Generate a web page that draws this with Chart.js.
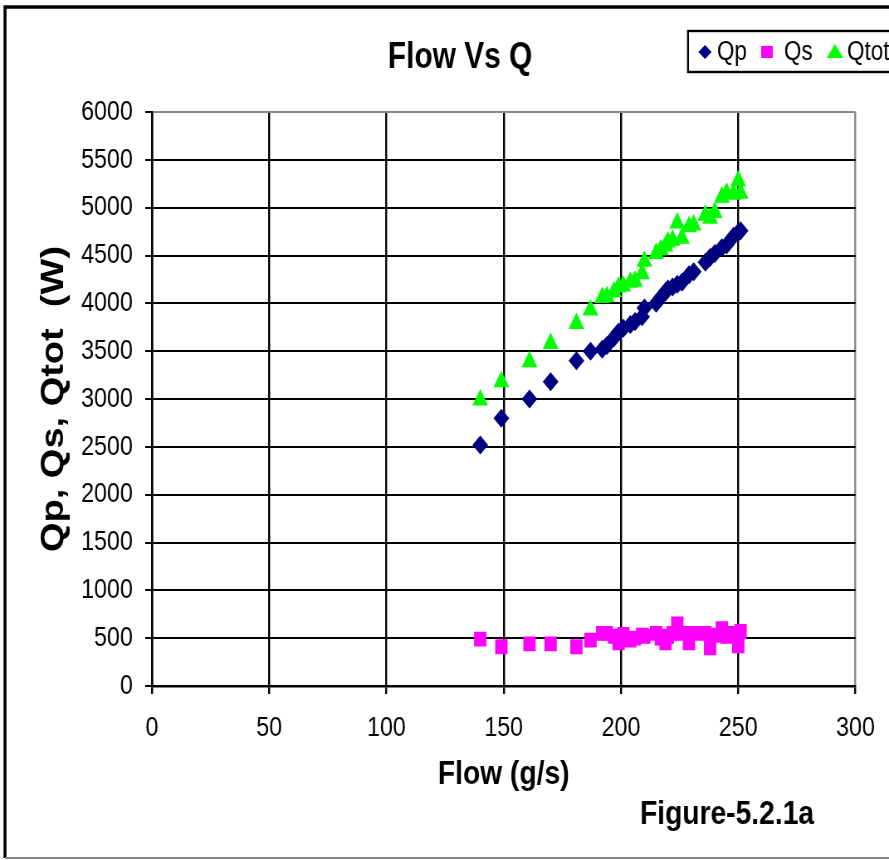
<!DOCTYPE html>
<html>
<head>
<meta charset="utf-8">
<title>Flow Vs Q</title>
<script src="https://cdn.jsdelivr.net/npm/chart.js@4.4.0/dist/chart.umd.min.js"></script>
<style>
  html, body { margin: 0; padding: 0; background: #fff; overflow: hidden; }
  #wrap { width: 889px; height: 860px; overflow: hidden; }
  canvas { display: block; transform-origin: 0 0; }
</style>
</head>
<body>
<div id="wrap"><canvas id="myChart" height="860"></canvas></div>
<script>
// values
var flow = [140, 149, 161, 170, 181, 187, 192, 194, 197, 199, 201, 204, 206, 209, 210, 215,
            217, 219, 220, 222, 224, 226, 229, 231, 236, 238, 240, 243, 245, 248, 250, 251];
var qp   = [2520, 2800, 3000, 3180, 3400, 3500, 3520, 3560, 3640, 3700, 3740, 3780, 3810, 3860, 3950, 4000,
            4060, 4120, 4150, 4170, 4200, 4220, 4300, 4330, 4430, 4480, 4520, 4580, 4610, 4700, 4740, 4760];
var qs   = [490, 410, 440, 440, 410, 480, 550, 550, 520, 450, 540, 480, 500, 530, 520, 550,
            500, 450, 520, 550, 650, 550, 450, 550, 550, 400, 530, 600, 520, 550, 420, 570];
var qtot = [2990, 3180, 3390, 3580, 3790, 3930, 4060, 4070, 4120, 4170, 4180, 4220, 4230, 4310, 4440, 4520,
            4560, 4600, 4640, 4660, 4840, 4680, 4800, 4820, 4920, 4890, 4950, 5110, 5150, 5140, 5280, 5150];
var xTicks = [0, 50, 100, 150, 200, 250, 300];
var yTicks = [0, 500, 1000, 1500, 2000, 2500, 3000, 3500, 4000, 4500, 5000, 5500, 6000];

var FONT = '"Liberation Sans", Arial, sans-serif';

// the original picture is squeezed sideways, so draw wider and squeeze with css
var K = 0.83;
var W = Math.round(889 / K);
var sx = 889 / W;
function X(px) { return px / sx; }

function pts(ys) {
  return flow.map(function (x, i) { return { x: x, y: ys[i] }; });
}

// frame, title, legend box and figure label
var decor = {
  id: 'decor',
  afterDraw: function (chart) {
    var c = chart.ctx;
    c.save();
    c.lineWidth = 3.6;
    c.strokeStyle = '#000';
    c.beginPath();
    c.moveTo(X(5), 858); c.lineTo(X(5), 7); c.lineTo(W + 5, 7);
    c.stroke();
    c.lineWidth = 2;
    c.strokeStyle = '#888';
    c.beginPath();
    c.moveTo(X(5), 858); c.lineTo(W + 5, 858);
    c.stroke();

    c.fillStyle = '#000';
    c.textAlign = 'center';
    c.textBaseline = 'middle';
    c.font = 'bold 36px ' + FONT;
    c.fillText('Flow Vs Q', X(460), 58);
    c.font = 'bold 34px ' + FONT;
    c.fillText('Figure-5.2.1a', X(727), 815);

    // legend
    c.lineWidth = 2.4;
    c.strokeStyle = '#000';
    c.strokeRect(X(688), 31, 300, 41);
    var ds = chart.data.datasets;
    var cy = 52;
    c.font = '27px ' + FONT;
    c.textAlign = 'left';

    var dx = X(705);
    c.fillStyle = ds[0].backgroundColor;
    c.beginPath();
    c.moveTo(dx, cy - 7); c.lineTo(dx + 8, cy); c.lineTo(dx, cy + 7); c.lineTo(dx - 8, cy);
    c.closePath(); c.fill();
    c.fillStyle = '#000';
    c.fillText(ds[0].label, X(717), cy + 1);

    c.fillStyle = ds[1].backgroundColor;
    c.fillRect(X(767) - 7, cy - 6, 14, 12);
    c.fillStyle = '#000';
    c.fillText(ds[1].label, X(784), cy + 1);

    var tx = X(835);
    c.fillStyle = ds[2].backgroundColor;
    c.beginPath();
    c.moveTo(tx, cy - 8); c.lineTo(tx + 10, cy + 6); c.lineTo(tx - 10, cy + 6);
    c.closePath(); c.fill();
    c.fillStyle = '#000';
    c.fillText(ds[2].label, X(847), cy + 1);
    c.restore();
  }
};

var ctx = document.getElementById('myChart');
ctx.width = W;
ctx.style.transform = 'scale(' + sx + ', 1)';

var myChart = new Chart(ctx, {
  type: 'scatter',
  data: {
    datasets: [{
      label: 'Qp',
      data: pts(qp),
      pointStyle: 'rectRot',
      pointRadius: 9.5,
      pointHoverRadius: 9.5,
      backgroundColor: '#000080',
      borderColor: '#000080',
      borderWidth: 0
    }, {
      label: 'Qs',
      data: pts(qs),
      pointStyle: 'rect',
      pointRadius: 10.5,
      pointHoverRadius: 10.5,
      backgroundColor: '#ff00ff',
      borderColor: '#ff00ff',
      borderWidth: 0
    }, {
      label: 'Qtot',
      data: pts(qtot),
      pointStyle: 'triangle',
      pointRadius: 11,
      pointHoverRadius: 11,
      backgroundColor: '#00ff00',
      borderColor: '#00ff00',
      borderWidth: 0
    }]
  },
  options: {
    responsive: false,
    animation: false,
    devicePixelRatio: 1,
    layout: { padding: { left: 0, right: Math.round(W - X(856)), top: 112, bottom: 65 } },
    plugins: {
      legend: { display: false },
      title: { display: false },
      tooltip: { enabled: false }
    },
    scales: {
      x: {
        type: 'linear',
        min: 0,
        max: 300,
        afterBuildTicks: function (s) { s.ticks = xTicks.map(function (v) { return { value: v }; }); },
        afterFit: function (s) { s.height = 109; },
        border: { color: '#000', width: 2.4 },
        grid: {
          lineWidth: 2.4,
          tickLength: 8,
          tickColor: '#000',
          color: function (c) { return c.tick && c.tick.value === 300 ? '#888' : '#000'; }
        },
        ticks: {
          color: '#000', padding: 17, font: { family: FONT, size: 28 },
          callback: function (v) { return String(v); }
        },
        title: {
          display: true,
          text: 'Flow (g/s)',
          color: '#000',
          padding: { top: 0, bottom: 0 },
          font: { family: FONT, size: 34, weight: 'bold' }
        }
      },
      y: {
        type: 'linear',
        min: 0,
        max: 6000,
        afterBuildTicks: function (s) { s.ticks = yTicks.map(function (v) { return { value: v }; }); },
        afterFit: function (s) { s.width = Math.round(X(152)); },
        border: { color: '#000', width: 2.4 },
        grid: {
          lineWidth: 2,
          tickLength: 8,
          tickColor: '#000',
          color: function (c) { return c.tick && c.tick.value === 6000 ? '#888' : '#000'; }
        },
        ticks: {
          color: '#000', padding: 15, font: { family: FONT, size: 28 },
          callback: function (v) { return String(v); }
        },
        title: {
          display: true,
          text: 'Qp, Qs, Qtot  (W)',
          color: '#000',
          padding: { top: 43, bottom: 0 },
          font: { family: FONT, size: 38, weight: 'bold' }
        }
      }
    }
  },
  plugins: [decor]
});
</script>
</body>
</html>
